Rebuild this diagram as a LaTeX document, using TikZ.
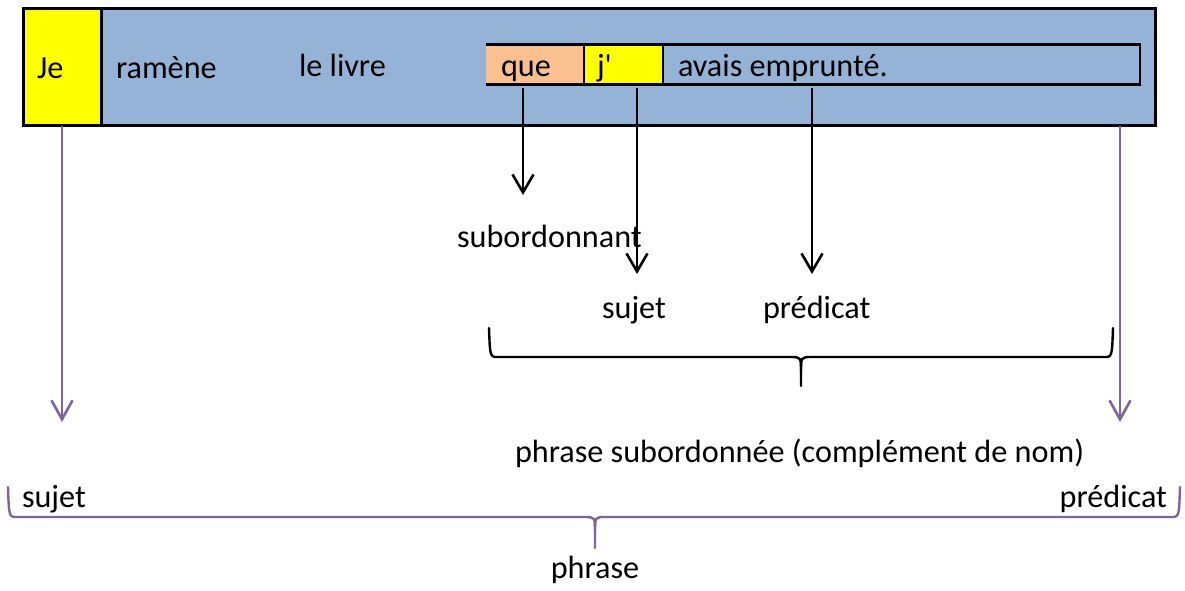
\documentclass[tikz,border=0pt]{standalone}
\usepackage{fontspec}
\setmainfont{Carlito}
\usetikzlibrary{arrows.meta}
\definecolor{boxblue}{HTML}{95B3D7}
\definecolor{boxyellow}{HTML}{FFFF00}
\definecolor{boxpeach}{HTML}{FAC090}
\definecolor{vio}{HTML}{8064A2}
\begin{document}
\begin{tikzpicture}[x=1pt,y=-1pt,
  lbl/.style={inner sep=0pt,outer sep=0pt,font=\fontsize{32.2}{39}\selectfont},
  cell/.style={inner sep=0pt,outer sep=0pt,anchor=north west},
  blarrow/.style={line width=2.6pt,-{Straight Barb[length=18pt,width=21pt,line width=2.6pt]}},
  vioarrow/.style={vio,line width=2.6pt,-{Straight Barb[length=19pt,width=21pt,line width=2.6pt]}},
  brc/.style={line width=2.4pt,line cap=round,line join=round}]
\useasboundingbox (0,0) rectangle (1185,590);
% outer bar
\node[cell,fill=boxblue,draw=black,line width=3pt,minimum width=1132pt,minimum height=117pt] (bar) at (23,8.5) {};
\node[cell,fill=boxyellow,draw=black,line width=3pt,minimum width=78pt,minimum height=117pt] (je) at (23,8.5) {};
% inner row
\node[cell,fill=boxpeach,minimum width=98pt,minimum height=40pt] (que) at (486,44.5) {};
\node[cell,fill=boxyellow,minimum width=79pt,minimum height=40pt] (jp) at (584,44.5) {};
\node[cell,fill=boxblue,minimum width=477pt,minimum height=40pt] (avais) at (663,44.5) {};
\draw[line width=2.4pt] (que.north west) -- (avais.north east) -- (avais.south east) -- (que.south west);
\draw[line width=2.4pt] (jp.north west) -- (jp.south west);
\draw[line width=2.4pt] (avais.north west) -- (avais.south west);
% texts in bar
\node[lbl,anchor=base west] (tje) at (37,78) {Je};
\node[lbl,anchor=base west] (tram) at (116,78) {ramène};
\node[lbl,anchor=base west] (tliv) at (299,76) {le livre};
\node[lbl,anchor=base west] (tque) at (501,76) {que};
\node[lbl,anchor=base west] (tjp) at (597,76) {j\textquotesingle};
\node[lbl,anchor=base west] (tav) at (678,76) {avais emprunté.};
% labels
\node[lbl,anchor=base west] (sub) at (457,247) {subordonnant};
\node[lbl,anchor=base west] (suj) at (602,318) {sujet};
\node[lbl,anchor=base west] (pred) at (763,318) {prédicat};
\node[lbl,anchor=base west] (phsub) at (515,462) {phrase subordonnée (complément de nom)};
\node[lbl,anchor=base west] (suj2) at (22,507) {sujet};
\node[lbl,anchor=base east] (pred2) at (1167,507) {prédicat};
\node[lbl,anchor=base] (phr) at (595,578) {phrase};
% black arrows
\coordinate (queS) at (523,88);
\coordinate (queE) at (523,195);
\coordinate (jpS) at (637,88);
\coordinate (jpE) at (637,274);
\coordinate (avS) at (812,88);
\coordinate (avE) at (812,274);
\draw[blarrow] (queS) -- (queE);
\draw[blarrow] (jpS) -- (jpE);
\draw[blarrow] (avS) -- (avE);
% violet arrows
\coordinate (jeE) at (62,422);
\coordinate (barS) at (1120,126);
\coordinate (barE) at (1120,422);
\draw[vioarrow] (je.south) -- (jeE);
\draw[vioarrow] (barS) -- (barE);
% black brace
\draw[brc] (489,328) .. controls (490,357) .. (498,357) -- (790,357)
  .. controls (801,357) .. (801,372) -- (801,386);
\draw[brc] (1113,328) .. controls (1112,357) .. (1104,357) -- (812,357)
  .. controls (801,357) .. (801,372);
% violet brace
\draw[brc,vio] (8,487) .. controls (9,517) .. (17,517) -- (584,517)
  .. controls (595,517) .. (595,532) -- (595,548);
\draw[brc,vio] (1180,487) .. controls (1179,517) .. (1171,517) -- (606,517)
  .. controls (595,517) .. (595,532);
\end{tikzpicture}
\end{document}
